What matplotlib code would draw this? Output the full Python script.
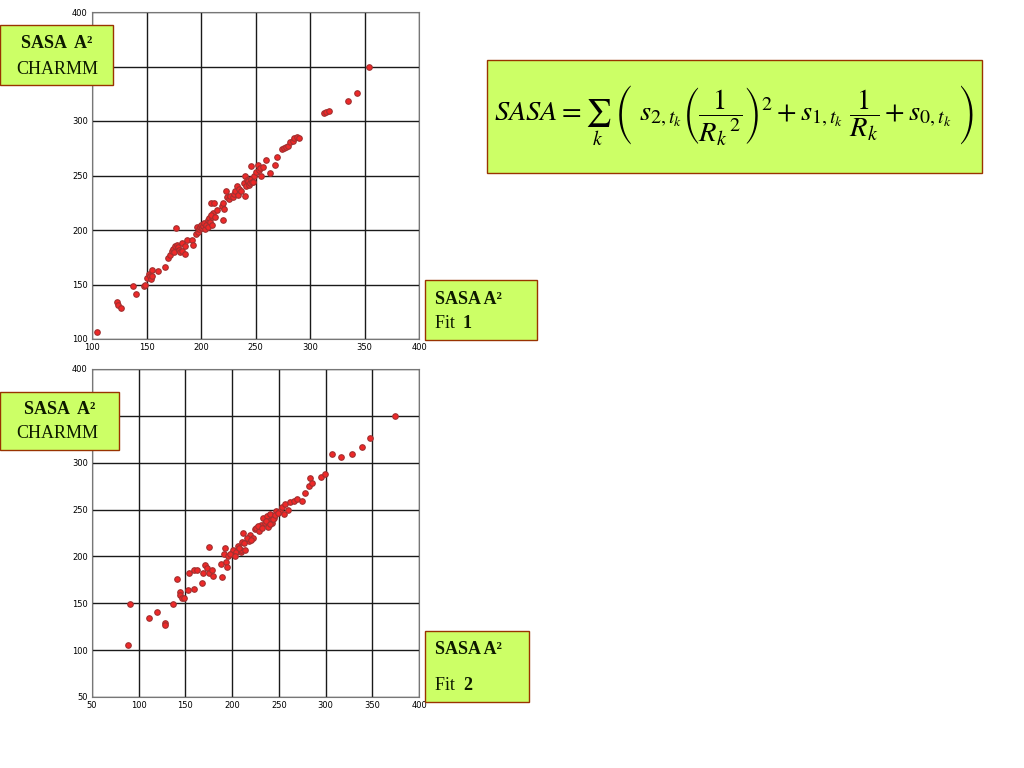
import matplotlib
matplotlib.use('Agg')
from matplotlib import pyplot as plt
from matplotlib.patches import Rectangle

# SASA fit 1 vs CHARMM (top panel)
fit1_x = [105, 123, 124, 127, 138, 140, 148, 149, 150, 152, 153, 154, 155, 155,
          161, 167, 170, 172, 173, 174, 175, 176, 177, 178, 179, 180, 181, 183,
          183, 185, 185, 187, 192, 193, 195, 196, 197, 198, 199, 200, 201, 202,
          203, 204, 205, 206, 206, 207, 208, 209, 210, 210, 211, 209, 213, 212,
          215, 219, 220, 220, 221, 223, 224, 226, 227, 229, 230, 231, 233, 234,
          235, 237, 239, 240, 240, 241, 242, 243, 244, 246, 245, 246, 247, 248,
          249, 250, 252, 253, 254, 255, 257, 260, 263, 268, 270, 274, 276, 278,
          280, 282, 284, 285, 288, 290, 313, 315, 317, 335, 343, 354]
fit1_y = [106, 134, 131, 128, 149, 141, 149, 150, 156, 160, 158, 155, 163, 158,
          162, 166, 174, 177, 181, 183, 180, 185, 202, 186, 184, 182, 180, 188,
          181, 185, 178, 191, 191, 186, 196, 203, 198, 201, 203, 205, 202, 204,
          206, 201, 205, 203, 209, 211, 207, 225, 212, 205, 216, 214, 212, 225,
          218, 222, 225, 209, 219, 236, 230, 228, 231, 230, 233, 236, 240, 232,
          238, 236, 243, 250, 231, 240, 246, 245, 241, 259, 243, 247, 244, 244,
          250, 253, 260, 255, 257, 250, 258, 264, 252, 260, 267, 274, 275, 276,
          277, 281, 282, 284, 285, 284, 307, 308, 309, 318, 326, 350]

# SASA fit 2 vs CHARMM (bottom panel)
fit2_x = [89, 91, 111, 120, 128, 128, 137, 141, 144, 144, 146, 149, 153, 159,
          154, 159, 162, 168, 169, 171, 173, 175, 178, 180, 175, 189, 188, 191,
          193, 194, 192, 196, 200, 201, 204, 206, 209, 210, 212, 211, 214, 218,
          219, 222, 224, 226, 229, 231, 233, 235, 237, 239, 240, 242, 243, 245,
          247, 251, 255, 253, 257, 260, 262, 266, 269, 275, 278, 282, 283, 285,
          295, 299, 307, 317, 328, 339, 348, 374, 228, 232, 236, 238, 241, 244,
          246, 249, 216, 220, 198, 203, 207, 213]
fit2_y = [106, 149, 134, 141, 129, 127, 149, 176, 162, 159, 156, 156, 164, 165,
          182, 185, 185, 172, 182, 191, 188, 182, 186, 179, 210, 178, 192, 203,
          194, 189, 209, 200, 204, 207, 205, 211, 205, 207, 225, 215, 207, 216,
          223, 220, 229, 230, 227, 234, 241, 236, 243, 234, 245, 239, 236, 241,
          248, 248, 245, 253, 256, 250, 258, 259, 261, 259, 268, 275, 284, 278,
          285, 288, 309, 306, 309, 317, 326, 350, 233, 230, 238, 231, 235, 240,
          244, 246, 220, 218, 203, 200, 209, 214]

fig = plt.figure(figsize=(10.24, 7.68), dpi=100)
W, H = 1024.0, 768.0


def px_rect(x0, y0, x1, y1):
    return [x0 / W, 1 - y1 / H, (x1 - x0) / W, (y1 - y0) / H]


def scatter_panel(rect, xs, ys, lim, ticks):
    ax = fig.add_axes(rect)
    ax.plot(xs, ys, linestyle='none', marker='o', ms=4, mfc='#f02828',
            mec='#a03030', mew=0.8, zorder=3)
    ax.set_xlim(*lim)
    ax.set_ylim(*lim)
    ax.set_xticks(ticks)
    ax.set_yticks(ticks)
    # the 350 label sits under the CHARMM box in the original
    ax.set_yticklabels([str(t) if t != 350 else '' for t in ticks])
    ax.grid(True, color='#1a1a1a', linewidth=1.0)
    ax.tick_params(labelsize=6, length=0, pad=3)
    for s in ax.spines.values():
        s.set_color('#777777')
        s.set_linewidth(0.8)
    return ax


scatter_panel(px_rect(92, 12, 419, 339), fit1_x, fit1_y, (100, 400),
              list(range(100, 401, 50)))
scatter_panel(px_rect(92, 369, 419, 697), fit2_x, fit2_y, (50, 400),
              list(range(50, 401, 50)))


def label_box(x0, y0, x1, y1):
    r = Rectangle((x0 / W, 1 - y1 / H), (x1 - x0) / W, (y1 - y0) / H,
                  transform=fig.transFigure, facecolor='#ccff66',
                  edgecolor='#993300', linewidth=1.0, zorder=5)
    fig.add_artist(r)


def ftext(x, y, s, **kw):
    fig.text(x / W, 1 - y / H, s, family='Liberation Serif', fontsize=13,
             color='#0d1a00', zorder=6, va='center', **kw)


# CHARMM boxes on the left
label_box(0, 25, 113, 85)
ftext(57, 44, 'SASA  A²', ha='center', weight='bold')
ftext(57, 69, 'CHARMM', ha='center')
label_box(0, 392, 119, 450)
ftext(60, 410, 'SASA  A²', ha='center', weight='bold')
ftext(57, 434, 'CHARMM', ha='center')

# fit boxes
label_box(425, 280, 537, 340)
ftext(435, 299, 'SASA A²', weight='bold')
ftext(435, 323, 'Fit ')
ftext(463, 323, '1', weight='bold')
label_box(425, 631, 529, 702)
ftext(435, 649, 'SASA A²', weight='bold')
ftext(435, 685, 'Fit ')
ftext(463, 685, '2', weight='bold')

# formula
label_box(487, 60, 982, 173)
plt.rcParams['mathtext.fontset'] = 'stix'
formula = (r'$SASA = \sum_{k}\ \left(\ s_{2,t_k}\left(\dfrac{1}{{R_k}^{\,2}}\right)^{2}'
           r' + s_{1,t_k}\ \dfrac{1}{R_k} + s_{0,t_k}\ \right)$')
fig.text(734 / W, 1 - 116 / H, formula, fontsize=20.5, ha='center', va='center',
         color='black', zorder=6)

fig.savefig('out.png', dpi=100)
